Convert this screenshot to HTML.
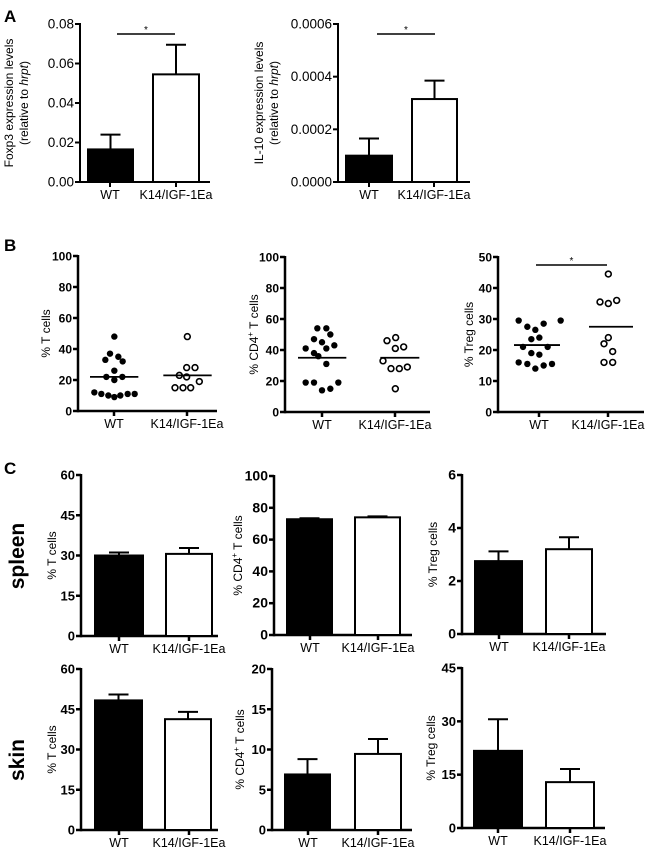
<!DOCTYPE html>
<html><head><meta charset="utf-8">
<style>
html,body{margin:0;padding:0;background:#fff;}
svg{display:block;font-family:"Liberation Sans",Arial,sans-serif;}
</style></head>
<body>
<svg id="fig" width="651" height="852" viewBox="0 0 651 852" xmlns="http://www.w3.org/2000/svg">
<text x="4" y="22" font-size="17" font-weight="bold">A</text>
<text x="4" y="251" font-size="17" font-weight="bold">B</text>
<text x="4" y="474" font-size="17" font-weight="bold">C</text>
<text transform="translate(24,556) rotate(-90)" text-anchor="middle" font-size="21" font-weight="bold">spleen</text>
<text transform="translate(24,760) rotate(-90)" text-anchor="middle" font-size="21" font-weight="bold">skin</text>
</svg>
<script>
// ---- data ----
const categories = ["WT", "K14/IGF-1Ea"];
// Panel A
const aFoxp3Means = [0.0165, 0.0545];
const aFoxp3Err = [0.024, 0.0695];
const aFoxp3Ticks = ["0.00","0.02","0.04","0.06","0.08"];
const aIl10Means = [0.0001, 0.000315];
const aIl10Err = [0.000165, 0.000385];
const aIl10Ticks = ["0.0000","0.0002","0.0004","0.0006"];
// Panel B
const bTWt = [48,37,33,35,32,26,22,22,20,12,11,10,9,10,11,11];
const bTK14 = [48,28,28,23,22,19,15,15,15];
const bTMeans = [22, 23];
const bCd4Wt = [54,54,47,50,45,41,41,43,38,36,31,19,19,19,14,15];
const bCd4K14 = [46,48,41,42,33,28,28,29,15];
const bCd4Means = [35, 35];
const bTregWt = [29.5,29.5,27.5,28.5,26.5,23.5,24,21,21,19,18.5,16,15.5,15.5,14,15];
const bTregK14 = [44.5,35.5,35,36,24,22,19.5,16,16];
const bTregMeans = [21.6, 27.5];
const ticks0to100 = [0,20,40,60,80,100];
const ticks0to50 = [0,10,20,30,40,50];
// Panel C
const cSpleenT = [30, 30.6], cSpleenTErr = [31.1, 32.8];
const cSpleenCd4 = [72.8, 74], cSpleenCd4Err = [73.4, 74.6];
const cSpleenTreg = [2.75, 3.2], cSpleenTregErr = [3.12, 3.65];
const cSkinT = [48.3, 41.3], cSkinTErr = [50.5, 44];
const cSkinCd4 = [6.9, 9.45], cSkinCd4Err = [8.8, 11.3];
const cSkinTreg = [21.7, 12.9], cSkinTregErr = [30.6, 16.6];
const ticks0to60 = [0,15,30,45,60];
const ticks0to20 = [0,5,10,15,20];
const ticks0to6 = [0,2,4,6];
const ticks0to45 = [0,15,30,45];

// ---- layout (jitter positions, not data) ----
const jitT = {wt:[343,330,316,355,368,343,319,367,343,283,304,325,343,361,383,404], k:[562,560,585,538,560,598,525,549,572]};
const jitCd4 = {wt:[301,328,291,340,315,266,328,352,291,304,328,266,291,364,315,340], k:[510,536,535,560,498,522,547,571,535]};
const jitTreg = {wt:[254,380,280,329,304,292,316,267,341,292,316,254,280,354,304,329], k:[523,498,523,548,523,510,536,510,536]};

const svg = document.getElementById('fig');
const NS = 'http://www.w3.org/2000/svg';
function mk(tag, attrs, parent){
  const e = document.createElementNS(NS, tag);
  for (const k in attrs) e.setAttribute(k, attrs[k]);
  (parent||svg).appendChild(e);
  return e;
}

function axes(p){
  const g = mk('g', {});
  
  
  const y = v => p.bottom - (v - p.min) / (p.max - p.min) * (p.bottom - p.top);
  const lw = p.lw || 2.5;
  const yl = mk('line', {x1:p.x0, y1:p.top-1, x2:p.x0, y2:p.bottom+lw/2, stroke:'#000','stroke-width':lw}, g);
  
  
  const xl = mk('line', {x1:p.x0, y1:p.bottom, x2:p.x1, y2:p.bottom, stroke:'#000','stroke-width':lw}, g);
  
  
  p.ticks.forEach((t, i) => {
    const v = p.tickVals ? p.tickVals[i] : t;
    const yy = y(v);
    mk('line', {x1:p.x0-5, y1:yy, x2:p.x0, y2:yy, stroke:'#000','stroke-width':lw}, g);
    const tx = mk('text', {x:p.x0-6, y:yy+4.5, 'text-anchor':'end', 'font-size':p.tfs||13, 'font-weight':p.bold?'bold':'normal'}, g);
    tx.textContent = t;
    
    
  });
  p.centers.forEach((cx, i) => {
    mk('line', {x1:cx, y1:p.bottom, x2:cx, y2:p.bottom+5, stroke:'#000','stroke-width':lw}, g);
    const tx = mk('text', {x:cx, y:p.bottom+17, 'text-anchor':'middle', 'font-size':12.5}, g);
    tx.textContent = categories[i];
    
    
  });
  const tt = mk('text', {transform:`translate(${p.titleX},${(p.top+p.bottom)/2}) rotate(-90)`, 'text-anchor':'middle', 'font-size':12}, g);
  p.title.forEach((line, i) => {
    const ts = mk('tspan', {x:0, dy: i===0 ? (p.title.length>1?-7:0) : 15}, tt);
    let prevSup = false;
    line.forEach(seg => {
      const a = {};
      if (seg.it) a['font-style'] = 'italic';
      if (seg.sup) { a['font-size'] = 8; a.dy = -5; }
      else if (prevSup) { a.dy = 5; }
      const s = mk('tspan', a, ts);
      s.textContent = seg.t;
      prevSup = !!seg.sup;
    });
  });
  
  
  return {g, y};
}

function barChart(p, means, errs){
  const {g, y} = axes(p);
  means.forEach((m, i) => {
    const [l, r] = p.bars[i];
    const cx = (l + r) / 2;
    const e = mk('line', {x1:cx, y1:y(m), x2:cx, y2:y(errs[i]), stroke:'#000', 'stroke-width':2}, g);
    
    
    mk('line', {x1:cx-10, y1:y(errs[i]), x2:cx+10, y2:y(errs[i]), stroke:'#000', 'stroke-width':2}, g);
    const b = mk('rect', {x:l, y:y(m), width:r-l, height:p.bottom - y(m), fill: i===0?'#000':'#fff', stroke:'#000', 'stroke-width':2}, g);
    
    
  });
  if (p.sig) sig(g, p.sig);
}
function sig(g, s){
  const l = mk('line', {x1:s[0], y1:s[2], x2:s[1], y2:s[2], stroke:'#000', 'stroke-width':1.5}, g);
  
  
  const t = mk('text', {x:(s[0]+s[1])/2, y:s[2]-1, 'text-anchor':'middle', 'font-size':10}, g);
  t.textContent = '*';
  
  
}
function dotChart(p, wt, k14, means, jit){
  const {g, y} = axes(p);
  [wt, k14].forEach((vals, gi) => {
    const jx = gi===0 ? jit.wt : jit.k;
    vals.forEach((v, i) => {
      const c = mk('circle', {cx:p.off + jx[i]/3, cy:y(v), r: gi===0?3.2:2.9, fill: gi===0?'#000':'#fff', stroke:'#000', 'stroke-width': gi===0?0:1.6}, g);
      
      
    });
    const [l, r] = p.lines[gi];
    const ml = mk('line', {x1:p.off + l/3, y1:y(means[gi]), x2:p.off + r/3, y2:y(means[gi]), stroke:'#000', 'stroke-width':1.8}, g);
    
    
  });
  if (p.sig) sig(g, p.sig);
}

// Panel A
barChart({name:'chart-foxp3', x0:80, x1:210, top:24, bottom:182, min:0, max:0.08,
  ticks:aFoxp3Ticks, tickVals:aFoxp3Ticks.map(Number), centers:[110,176], bars:[[88,133],[153,199]],
  lw:2, tfs:13.5, titleX:20, sig:[117,175,34],
  title:[[{t:'Foxp3 expression levels'}],[{t:'(relative to '},{t:'hrpt',it:1},{t:')'}]]}, aFoxp3Means, aFoxp3Err);
barChart({name:'chart-il10', x0:338, x1:470, top:24, bottom:182, min:0, max:0.0006,
  ticks:aIl10Ticks, tickVals:aIl10Ticks.map(Number), centers:[369,434], bars:[[346,392],[412,457]],
  lw:2, tfs:13.5, titleX:270, sig:[377,435,34],
  title:[[{t:'IL-10 expression levels'}],[{t:'(relative to '},{t:'hrpt',it:1},{t:')'}]]}, aIl10Means, aIl10Err);

// Panel B
dotChart({name:'chart-t-cells-scatter', x0:78, x1:217, top:256, bottom:411, min:0, max:100, off:0,
  ticks:ticks0to100, centers:[114,187], bold:1, tfs:12, titleX:50,
  lines:[[270,415],[490,635]], title:[[{t:'% T cells'}]]}, bTWt, bTK14, bTMeans, jitT);
dotChart({name:'chart-cd4-scatter', x0:285, x1:430, top:257, bottom:412, min:0, max:100, off:217,
  ticks:ticks0to100, centers:[322,395], bold:1, tfs:12, titleX:258,
  lines:[[243,388],[490,607]], title:[[{t:'% CD4'},{t:'+',sup:1},{t:' T cells'}]]}, bCd4Wt, bCd4K14, bCd4Means, jitCd4);
dotChart({name:'chart-treg-scatter', x0:498, x1:644, top:257, bottom:412, min:0, max:50, off:434,
  ticks:ticks0to50, centers:[539,608], bold:1, tfs:12, titleX:473, sig:[536,607,265],
  lines:[[240,378],[465,597]], title:[[{t:'% Treg cells'}]]}, bTregWt, bTregK14, bTregMeans, jitTreg);

// Panel C spleen
barChart({name:'chart-spleen-t', x0:81, x1:218, top:475, bottom:636, min:0, max:60,
  ticks:ticks0to60, centers:[119,189], bars:[[95,143],[166,212]], bold:1, tfs:13, titleX:56,
  title:[[{t:'% T cells'}]]}, cSpleenT, cSpleenTErr);
barChart({name:'chart-spleen-cd4', x0:274, x1:412, top:476, bottom:635, min:0, max:100,
  ticks:ticks0to100, centers:[310,378], bars:[[287,332],[355,400]], bold:1, tfs:14, titleX:242,
  title:[[{t:'% CD4'},{t:'+',sup:1},{t:' T cells'}]]}, cSpleenCd4, cSpleenCd4Err);
barChart({name:'chart-spleen-treg', x0:462, x1:606, top:475, bottom:634, min:0, max:6,
  ticks:ticks0to6, centers:[499,569], bars:[[475,522],[546,592]], bold:1, tfs:14, titleX:437,
  title:[[{t:'% Treg cells'}]]}, cSpleenTreg, cSpleenTregErr);

// Panel C skin
barChart({name:'chart-skin-t', x0:81, x1:218, top:669, bottom:830, min:0, max:60,
  ticks:ticks0to60, centers:[119,189], bars:[[95,142],[165,211]], bold:1, tfs:13, titleX:56,
  title:[[{t:'% T cells'}]]}, cSkinT, cSkinTErr);
barChart({name:'chart-skin-cd4', x0:272, x1:412, top:669, bottom:830, min:0, max:20,
  ticks:ticks0to20, centers:[308,378], bars:[[285,330],[355,401]], bold:1, tfs:13, titleX:244,
  title:[[{t:'% CD4'},{t:'+',sup:1},{t:' T cells'}]]}, cSkinCd4, cSkinCd4Err);
barChart({name:'chart-skin-treg', x0:462, x1:605, top:668, bottom:828, min:0, max:45,
  ticks:ticks0to45, centers:[498,570], bars:[[474,522],[546,594]], bold:1, tfs:13, titleX:435,
  title:[[{t:'% Treg cells'}]]}, cSkinTreg, cSkinTregErr);
</script>
</body></html>
